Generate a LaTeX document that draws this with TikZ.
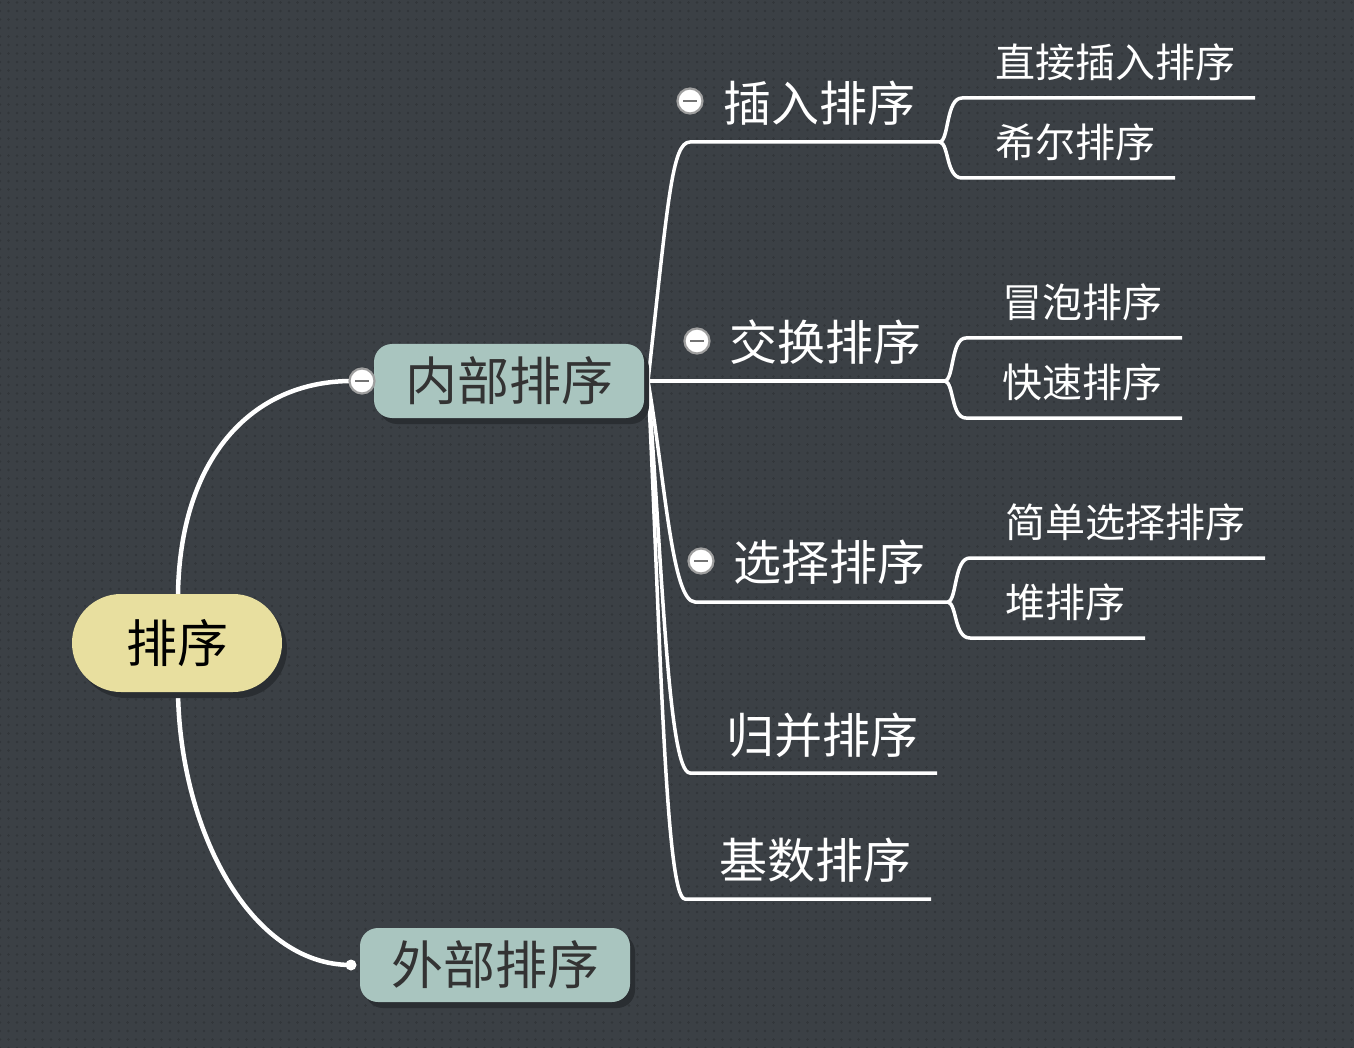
\documentclass[tikz,border=0pt]{standalone}
\usepackage{fontspec}
\newfontfamily\cjk{Noto Sans CJK SC}
\usetikzlibrary{shadows,patterns.meta}
\definecolor{bgc}{HTML}{3B4045}
\definecolor{dotc}{HTML}{32363A}
\definecolor{rootc}{HTML}{E8DF9F}
\definecolor{lvone}{HTML}{A9C5BF}
\definecolor{shadc}{HTML}{2A2E32}
\definecolor{txtdark}{HTML}{333333}
\tikzset{
  rootbox/.style={fill=rootc, rounded corners=49pt, minimum width=210pt, minimum height=98pt,
    inner sep=0pt, font=\cjk\fontsize{51}{56}\selectfont, text=black,
    drop shadow={shadow xshift=5pt, shadow yshift=-6pt, fill=shadc, opacity=1}},
  onebox/.style={fill=lvone, rounded corners=18pt, minimum width=270pt, minimum height=74pt,
    inner sep=0pt, font=\cjk\fontsize{52}{56}\selectfont, text=txtdark,
    drop shadow={shadow xshift=5pt, shadow yshift=-6pt, fill=shadc, opacity=1}},
  twotext/.style={inner sep=0pt, text=white, font=\cjk\fontsize{48}{52}\selectfont},
  threetext/.style={inner sep=0pt, text=white, font=\cjk\fontsize{40}{44}\selectfont},
  bigline/.style={draw=white, line width=4.5pt},
  link/.style={draw=white, line width=3.5pt},
  collapse/.style={circle, fill=white, draw=gray!75, line width=2.2pt, minimum size=25pt, inner sep=0pt,
    path picture={\draw[gray!90!black, line width=2.5pt] ([xshift=-7pt]path picture bounding box.center) -- ([xshift=7pt]path picture bounding box.center);}},
}
\begin{document}
\begin{tikzpicture}[x=1pt,y=-1pt]
\fill[bgc] (0,0) rectangle (1354,1048);
\fill[pattern={Dots[distance=8.5pt, radius=1.3pt]}, pattern color=dotc] (0,0) rectangle (1354,1048);
\useasboundingbox (0,0) rectangle (1354,1048);

% coordinates
\coordinate (rtop) at (178,594);
\coordinate (rbot) at (178,692);
\coordinate (hub) at (648,381);
\coordinate (wdot) at (351,965);

% root connectors
\draw[bigline] (rtop) .. controls (180,460) and (250,381) .. (352,381);
\draw[bigline] (rbot) .. controls (180,830) and (250,965) .. (wdot);
\fill[white] (wdot) circle (5.5pt);

% level 2 connectors
\coordinate (a0) at (690,142); \coordinate (a1) at (940,142);
\coordinate (b1) at (945,381);
\coordinate (c0) at (695,602); \coordinate (c1) at (948,602);
\coordinate (d0) at (690,773); \coordinate (d1) at (937,773);
\coordinate (e0) at (685,899); \coordinate (e1) at (931,899);
\draw[link] (hub) .. controls (668,200) and (672,142) .. (a0) -- (a1);
\draw[link] (hub) -- (b1);
\draw[link] (hub) .. controls (665,480) and (672,602) .. (c0) -- (c1);
\draw[link] (hub) .. controls (662,560) and (668,773) .. (d0) -- (d1);
\draw[link] (hub) .. controls (660,620) and (665,899) .. (e0) -- (e1);

% level 3 connectors
\draw[link] (a1) .. controls (949,140) and (946,98) .. (962,98) -- (1255,98);
\draw[link] (a1) .. controls (949,144) and (946,178) .. (962,178) -- (1175,178);
\draw[link] (b1) .. controls (954,379) and (951,338) .. (966,338) -- (1182,338);
\draw[link] (b1) .. controls (954,383) and (951,418) .. (966,418) -- (1182,418);
\draw[link] (c1) .. controls (957,600) and (954,558) .. (970,558) -- (1265,558);
\draw[link] (c1) .. controls (957,604) and (954,638) .. (970,638) -- (1145,638);

% main nodes
\node[rootbox] (root) at (177,643) {排序};
\node[onebox] (inner) at (509,381) {内部排序};
\node[onebox] (outer) at (495,965) {外部排序};

\node[collapse] (cinner) at (362,381) {};
\node[collapse] (ca) at (690,101) {};
\node[collapse] (cb) at (697,341) {};
\node[collapse] (cc) at (701,561) {};

% level 2 texts
\node[twotext] (ins) at (819,103) {插入排序};
\node[twotext] (swp) at (825,342) {交换排序};
\node[twotext] (sel) at (829,562) {选择排序};
\node[twotext] (mrg) at (822,735) {归并排序};
\node[twotext] (rdx) at (815,860) {基数排序};

% level 3 texts
\node[threetext] (dins) at (1115,62) {直接插入排序};
\node[threetext] (shl) at (1075,142) {希尔排序};
\node[threetext] (bub) at (1082,302) {冒泡排序};
\node[threetext] (qck) at (1082,382) {快速排序};
\node[threetext] (ssel) at (1125,522) {简单选择排序};
\node[threetext] (hep) at (1065,602) {堆排序};
\end{tikzpicture}
\end{document}
